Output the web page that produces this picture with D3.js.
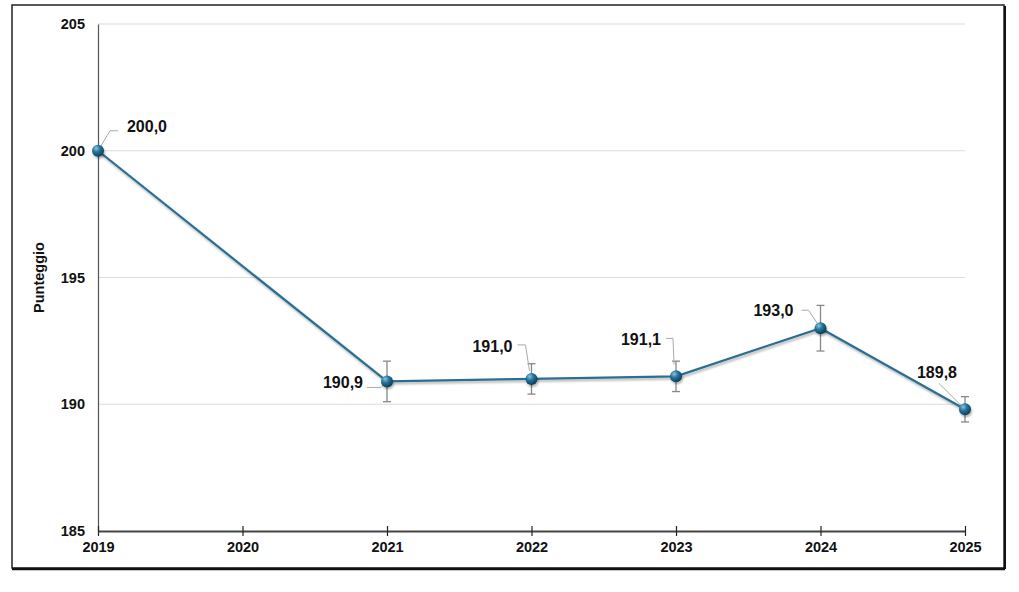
<!DOCTYPE html>
<html><head><meta charset="utf-8">
<script src="https://cdn.jsdelivr.net/npm/d3@7"></script>
<style>body{margin:0;background:#fff;font-family:"Liberation Sans",Arial,sans-serif}</style>
</head><body><svg id="c" width="1019" height="592"></svg>
<script>
const years = [2019, 2020, 2021, 2022, 2023, 2024, 2025];
const pointYears = [2019, 2021, 2022, 2023, 2024, 2025];
const scores = [200.0, 190.9, 191.0, 191.1, 193.0, 189.8];
const errors = [0, 0.8, 0.6, 0.6, 0.9, 0.5];
const labels = ["200,0", "190,9", "191,0", "191,1", "193,0", "189,8"];
const yTicks = [185, 190, 195, 200, 205];

const svg = d3.select("#c");
const defs = svg.append("defs");
const g1 = defs.append("radialGradient").attr("id","ball").attr("cx","35%").attr("cy","30%").attr("r","70%");
g1.append("stop").attr("offset","0%").attr("stop-color","#8fc3dc");
g1.append("stop").attr("offset","45%").attr("stop-color","#25759c");
g1.append("stop").attr("offset","100%").attr("stop-color","#0d3f5c");
const f = defs.append("filter").attr("id","sh").attr("x","-20%").attr("y","-20%").attr("width","140%").attr("height","140%");
f.append("feDropShadow").attr("dx",1).attr("dy",2).attr("stdDeviation",1.2).attr("flood-color","#000").attr("flood-opacity",0.3);

// frame
svg.append("rect").attr("x",12).attr("y",5).attr("width",992).attr("height",563).attr("fill","none").attr("stroke","#222").attr("stroke-width",1.5);
svg.append("line").attr("x1",12).attr("x2",1005).attr("y1",569).attr("y2",569).attr("stroke","#111").attr("stroke-width",2.5);
svg.append("line").attr("x1",1005).attr("x2",1005).attr("y1",6).attr("y2",569).attr("stroke","#111").attr("stroke-width",2);

const x = d3.scaleLinear().domain([2019, 2025]).range([98, 965]);
const y = d3.scaleLinear().domain([185, 205]).range([531, 24]);

// gridlines
svg.append("g").selectAll("line").data(yTicks.filter(d => d > 185)).join("line")
  .attr("x1", 98).attr("x2", 965).attr("y1", d => y(d)).attr("y2", d => y(d))
  .attr("stroke", "#dcdcdc").attr("stroke-width", 1.2);

// y axis
const ya = svg.append("g").attr("transform","translate(98,0)")
  .call(d3.axisLeft(y).tickValues(yTicks).tickSize(0).tickPadding(13).tickFormat(d3.format("d")));
ya.select(".domain").attr("stroke","#555").attr("stroke-width",1.2);
ya.selectAll("text").attr("font-family","Liberation Sans, Arial, sans-serif").attr("font-size",14.5).attr("font-weight","bold").attr("fill","#111");

// x axis
const xa = svg.append("g").attr("transform",`translate(0,${y(185)})`)
  .call(d3.axisBottom(x).tickValues(years).tickSize(0).tickPadding(11).tickFormat(d3.format("d")));
xa.select(".domain").attr("stroke","#444").attr("stroke-width",2);
xa.selectAll(".tick").append("line").attr("y1",-5).attr("y2",5).attr("stroke","#222").attr("stroke-width",1.2);
xa.selectAll("text").attr("font-family","Liberation Sans, Arial, sans-serif").attr("font-size",14.5).attr("font-weight","bold").attr("fill","#111");

// y label
svg.append("text").attr("transform",`translate(44,${y(195)}) rotate(-90)`).attr("text-anchor","middle")
  .attr("font-size",14.5).attr("font-weight","bold").attr("fill","#111").text("Punteggio");

const data = pointYears.map((yr,i)=>({yr, v:scores[i], e:errors[i], l:labels[i]}));

// error bars
const eb = svg.append("g").attr("stroke","#888").attr("stroke-width",1.3);
data.filter(d=>d.e>0).forEach(d=>{
  const cx = x(d.yr);
  eb.append("line").attr("x1",cx).attr("x2",cx).attr("y1",y(d.v+d.e)).attr("y2",y(d.v-d.e));
  eb.append("line").attr("x1",cx-4).attr("x2",cx+4).attr("y1",y(d.v+d.e)).attr("y2",y(d.v+d.e));
  eb.append("line").attr("x1",cx-4).attr("x2",cx+4).attr("y1",y(d.v-d.e)).attr("y2",y(d.v-d.e));
});

// line
const line = d3.line().x(d=>x(d.yr)).y(d=>y(d.v));
svg.append("path").datum(data).attr("d",line).attr("fill","none").attr("stroke","#2b6e92").attr("stroke-width",2.2).attr("filter","url(#sh)");

// leader lines & labels (offsets relative to point)
const lab = [
  {dx:49, dy:-24, anchor:"middle", lead:[[0,0],[12,-20],[20,-20]]},
  {dx:-24, dy:1, anchor:"end", lead:[[0,0],[-6,6],[-20,6]]},
  {dx:-19, dy:-33, anchor:"end", lead:[[-2,-8],[-6,-34],[-14,-34]]},
  {dx:-15, dy:-37, anchor:"end", lead:[[-2,-12],[-3,-38],[-10,-38]]},
  {dx:-27, dy:-18, anchor:"end", lead:[[0,0],[-12,-18],[-19,-18]]},
  {dx:-28, dy:-37, anchor:"middle", lead:[[0,0],[-26,-26]]}
];
const ll = svg.append("g").attr("fill","none").attr("stroke","#aaa").attr("stroke-width",1);
data.forEach((d,i)=>{
  const cx=x(d.yr), cy=y(d.v);
  ll.append("polyline").attr("points", lab[i].lead.map(p=>`${cx+p[0]},${cy+p[1]}`).join(" "));
  svg.append("text").attr("x",cx+lab[i].dx).attr("y",cy+lab[i].dy).attr("dy","0.35em")
    .attr("text-anchor",lab[i].anchor).attr("font-size",16).attr("font-weight","bold").attr("fill","#111").text(d.l);
});

// markers
svg.append("g").selectAll("circle").data(data).join("circle")
  .attr("cx",d=>x(d.yr)).attr("cy",d=>y(d.v)).attr("r",6)
  .attr("fill","url(#ball)").attr("filter","url(#sh)");
</script></body></html>
